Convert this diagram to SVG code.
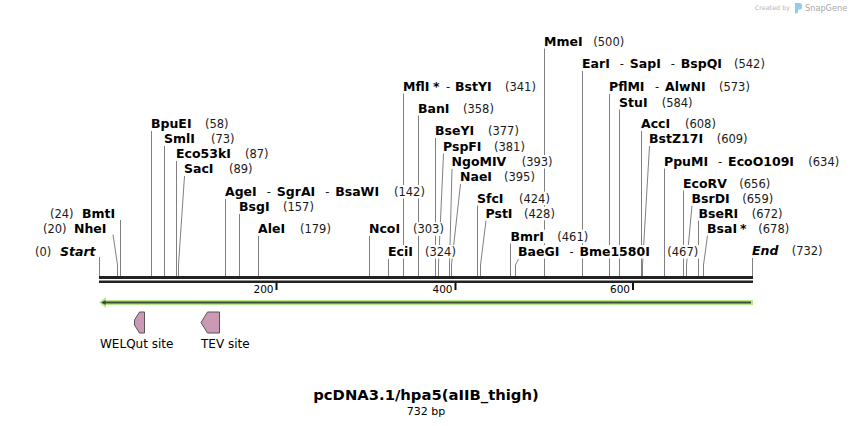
<svg xmlns="http://www.w3.org/2000/svg" width="852" height="426" viewBox="0 0 852 426">
<style>
.ln{stroke:#808080;stroke-width:1;fill:none}
.bg{fill:#fff}
.nm{font-family:"DejaVu Sans",Verdana,sans-serif;font-weight:bold;font-size:12.5px;fill:#000}
.nu{font-family:"DejaVu Sans",Verdana,sans-serif;font-weight:normal;font-size:11.5px;fill:#1a1a1a}
.it{font-style:italic}
.tk{font-family:"DejaVu Sans",Verdana,sans-serif;font-size:10.5px;fill:#000;text-anchor:end}
.ft{font-family:"DejaVu Sans",Verdana,sans-serif;font-size:12px;fill:#000}
.feat{fill:#cc99b4;stroke:#555;stroke-width:1}
</style>
<rect width="852" height="426" fill="#fff"/>

<g id="snapgene-logo">
<text x="790" y="10" font-family="'DejaVu Sans',sans-serif" font-size="6.4" fill="#b8b8b8" text-anchor="end">Created by</text>
<path d="M795,3 h4.5 a2.5,2.5 0 0 1 2.5,2.5 v2 a2,2 0 0 1 -2,2 h-2 v3 l-3,1.5 z" fill="#8fcdea"/>
<text x="805" y="11" font-family="'DejaVu Sans',sans-serif" font-size="8.2" fill="#a8a8a8">SnapGene</text>
</g>

<g id="connectors">
<polyline class="ln" points="99.5,257 99.5,276"/>
<polyline class="ln" points="113,234.5 117.5,265 117.5,276"/>
<polyline class="ln" points="120.5,220 120.5,276"/>
<polyline class="ln" points="151.5,131 151.5,276"/>
<polyline class="ln" points="164.5,146 164.5,276"/>
<polyline class="ln" points="176.5,161 176.5,276"/>
<polyline class="ln" points="184.5,176 178.5,265 178.5,276"/>
<polyline class="ln" points="225.5,199 225.5,276"/>
<polyline class="ln" points="239.5,214 239.5,276"/>
<polyline class="ln" points="258.5,236 258.5,276"/>
<polyline class="ln" points="369.5,236 369.5,276"/>
<polyline class="ln" points="388.5,259 388.5,276"/>
<polyline class="ln" points="403.5,93.5 403.5,276"/>
<polyline class="ln" points="418.5,115.5 418.5,276"/>
<polyline class="ln" points="435.5,138 435.5,276"/>
<polyline class="ln" points="443.5,153.5 438.5,265 438.5,276"/>
<polyline class="ln" points="452,169 449.5,265 449.5,276"/>
<polyline class="ln" points="460.5,184 451.5,265 451.5,276"/>
<polyline class="ln" points="477.5,205.5 477.5,276"/>
<polyline class="ln" points="486,220.5 480.5,265 480.5,276"/>
<polyline class="ln" points="510.5,243.5 510.5,276"/>
<polyline class="ln" points="518.5,259 515.5,265 515.5,276"/>
<polyline class="ln" points="544.5,48.5 544.5,276"/>
<polyline class="ln" points="582.5,71 582.5,276"/>
<polyline class="ln" points="609.5,94 609.5,276"/>
<polyline class="ln" points="619.5,109.5 619.5,276"/>
<polyline class="ln" points="641.5,131 641.5,276"/>
<polyline class="ln" points="649.5,146 642.5,265 642.5,276"/>
<polyline class="ln" points="664.5,168.5 664.5,276"/>
<polyline class="ln" points="683.5,190.5 683.5,276"/>
<polyline class="ln" points="692,205.5 686.5,265 686.5,276"/>
<polyline class="ln" points="698.5,220.5 698.5,276"/>
<polyline class="ln" points="707.5,235.5 703.5,265 703.5,276"/>
<polyline class="ln" points="752.5,258 752.5,276"/>
</g>

<g id="backbone">
<rect x="99" y="276" width="654" height="3" fill="#222"/>
<rect x="99" y="280.5" width="654" height="2.5" fill="#222"/>
<g stroke="#111" stroke-width="2">
<line x1="276.5" y1="283" x2="276.5" y2="290"/>
<line x1="455.5" y1="283" x2="455.5" y2="290"/>
<line x1="633" y1="283" x2="633" y2="290"/>
</g>
<text class="tk" x="273.5" y="293">200</text>
<text class="tk" x="452.5" y="293">400</text>
<text class="tk" x="630" y="293">600</text>
</g>

<g id="site-Start"><rect class="bg" x="33.5" y="245" width="18.5" height="13.5"/><rect class="bg" x="58.5" y="245" width="38.5" height="13.5"/>
<text x="35" y="256"><tspan class="nu">(0)</tspan><tspan class="nm it" x="60">Start</tspan></text></g>
<g id="site-NheI"><rect class="bg" x="41.5" y="222.3" width="26" height="13.5"/><rect class="bg" x="72.5" y="222.3" width="35.5" height="13.5"/>
<text x="43" y="233.3"><tspan class="nu">(20)</tspan><tspan class="nm" x="74">NheI</tspan></text></g>
<g id="site-BmtI"><rect class="bg" x="48.5" y="207.3" width="26" height="13.5"/><rect class="bg" x="80.5" y="207.3" width="36" height="13.5"/>
<text x="50" y="218.3"><tspan class="nu">(24)</tspan><tspan class="nm" x="82">BmtI</tspan></text></g>

<g id="site-BpuEI"><rect class="bg" x="149.5" y="117.3" width="43.5" height="13.5"/><rect class="bg" x="204" y="117.3" width="25.6" height="13.5"/>
<text y="128.3"><tspan class="nm" x="151">BpuEI</tspan><tspan class="nu" x="205">(58)</tspan></text></g>
<g id="site-SmlI"><rect class="bg" x="162.5" y="132.3" width="34" height="13.5"/><rect class="bg" x="210" y="132.3" width="25.6" height="13.5"/>
<text y="143.3"><tspan class="nm" x="164">SmlI</tspan><tspan class="nu" x="211">(73)</tspan></text></g>
<g id="site-Eco53kI"><rect class="bg" x="174.5" y="147.3" width="58" height="13.5"/><rect class="bg" x="244" y="147.3" width="25.6" height="13.5"/>
<text y="158.3"><tspan class="nm" x="176">Eco53kI</tspan><tspan class="nu" x="245">(87)</tspan></text></g>
<g id="site-SacI"><rect class="bg" x="182.5" y="162.3" width="32.5" height="13.5"/><rect class="bg" x="228" y="162.3" width="25.6" height="13.5"/>
<text y="173.3"><tspan class="nm" x="184">SacI</tspan><tspan class="nu" x="229">(89)</tspan></text></g>
<g id="site-AgeI"><rect class="bg" x="223.5" y="185" width="157" height="13.5"/><rect class="bg" x="393" y="185" width="33" height="13.5"/>
<text y="196"><tspan class="nm" x="225">AgeI</tspan><tspan class="nu" x="266.8">-</tspan><tspan class="nm" x="276.8">SgrAI</tspan><tspan class="nu" x="325.2">-</tspan><tspan class="nm" x="335.2">BsaWI</tspan><tspan class="nu" x="394">(142)</tspan></text></g>
<g id="site-BsgI"><rect class="bg" x="237.5" y="200" width="33.5" height="13.5"/><rect class="bg" x="282" y="200" width="33" height="13.5"/>
<text y="211"><tspan class="nm" x="239">BsgI</tspan><tspan class="nu" x="283">(157)</tspan></text></g>
<g id="site-AleI"><rect class="bg" x="256.5" y="222" width="30" height="13.5"/><rect class="bg" x="299" y="222" width="33" height="13.5"/>
<text y="233"><tspan class="nm" x="258">AleI</tspan><tspan class="nu" x="300">(179)</tspan></text></g>
<g id="site-NcoI"><rect class="bg" x="367.5" y="222.3" width="34" height="13.5"/><rect class="bg" x="412" y="222.3" width="33" height="13.5"/>
<text y="233.3"><tspan class="nm" x="369">NcoI</tspan><tspan class="nu" x="413">(303)</tspan></text></g>
<g id="site-EciI"><rect class="bg" x="386.5" y="245" width="28" height="13.5"/><rect class="bg" x="424" y="245" width="33" height="13.5"/>
<text y="256"><tspan class="nm" x="388">EciI</tspan><tspan class="nu" x="425">(324)</tspan></text></g>
<g id="site-MflI"><rect class="bg" x="401.5" y="79.7" width="91.5" height="13.5"/><rect class="bg" x="504" y="79.7" width="33" height="13.5"/>
<text y="90.7"><tspan class="nm" x="403">MflI</tspan><tspan class="nm" x="433">*</tspan><tspan class="nu" x="446">-</tspan><tspan class="nm" x="455">BstYI</tspan><tspan class="nu" x="505">(341)</tspan></text></g>
<g id="site-BanI"><rect class="bg" x="416.5" y="101.7" width="34.5" height="13.5"/><rect class="bg" x="462" y="101.7" width="33" height="13.5"/>
<text y="112.7"><tspan class="nm" x="418">BanI</tspan><tspan class="nu" x="463">(358)</tspan></text></g>
<g id="site-BseYI"><rect class="bg" x="433.5" y="124" width="42" height="13.5"/><rect class="bg" x="487" y="124" width="33" height="13.5"/>
<text y="135"><tspan class="nm" x="435">BseYI</tspan><tspan class="nu" x="488">(377)</tspan></text></g>
<g id="site-PspFI"><rect class="bg" x="441.5" y="139.7" width="41.5" height="13.5"/><rect class="bg" x="493" y="139.7" width="33" height="13.5"/>
<text y="150.7"><tspan class="nm" x="443">PspFI</tspan><tspan class="nu" x="494">(381)</tspan></text></g>
<g id="site-NgoMIV"><rect class="bg" x="450" y="155" width="57.5" height="13.5"/><rect class="bg" x="520.7" y="155" width="33" height="13.5"/>
<text y="166"><tspan class="nm" x="451.5">NgoMIV</tspan><tspan class="nu" x="521.7">(393)</tspan></text></g>
<g id="site-NaeI"><rect class="bg" x="458.5" y="170" width="35" height="13.5"/><rect class="bg" x="503" y="170" width="33" height="13.5"/>
<text y="181"><tspan class="nm" x="460">NaeI</tspan><tspan class="nu" x="504">(395)</tspan></text></g>
<g id="site-SfcI"><rect class="bg" x="475.5" y="191.7" width="29.5" height="13.5"/><rect class="bg" x="518" y="191.7" width="33" height="13.5"/>
<text y="202.7"><tspan class="nm" x="477">SfcI</tspan><tspan class="nu" x="519">(424)</tspan></text></g>
<g id="site-PstI"><rect class="bg" x="484" y="206.7" width="30" height="13.5"/><rect class="bg" x="523" y="206.7" width="33" height="13.5"/>
<text y="217.7"><tspan class="nm" x="485.5">PstI</tspan><tspan class="nu" x="524">(428)</tspan></text></g>
<g id="site-BmrI"><rect class="bg" x="509" y="229.7" width="36" height="13.5"/><rect class="bg" x="556.3" y="229.7" width="33" height="13.5"/>
<text y="240.7"><tspan class="nm" x="510.5">BmrI</tspan><tspan class="nu" x="557.3">(461)</tspan></text></g>
<g id="site-BaeGI"><rect class="bg" x="516.5" y="245" width="135" height="13.5"/><rect class="bg" x="666.3" y="245" width="33" height="13.5"/>
<text y="256"><tspan class="nm" x="518">BaeGI</tspan><tspan class="nu" x="569.4">-</tspan><tspan class="nm" x="579.4">Bme1580I</tspan><tspan class="nu" x="667.3">(467)</tspan></text></g>
<g id="site-MmeI"><rect class="bg" x="542.5" y="34.7" width="41.5" height="13.5"/><rect class="bg" x="592.3" y="34.7" width="33" height="13.5"/>
<text y="45.7"><tspan class="nm" x="544">MmeI</tspan><tspan class="nu" x="593.3">(500)</tspan></text></g>
<g id="site-EarI"><rect class="bg" x="580.5" y="57.3" width="143" height="13.5"/><rect class="bg" x="733" y="57.3" width="33" height="13.5"/>
<text y="68.3"><tspan class="nm" x="582">EarI</tspan><tspan class="nu" x="619.8">-</tspan><tspan class="nm" x="629.8">SapI</tspan><tspan class="nu" x="670.8">-</tspan><tspan class="nm" x="680.8">BspQI</tspan><tspan class="nu" x="734">(542)</tspan></text></g>
<g id="site-PflMI"><rect class="bg" x="607.5" y="80" width="99.5" height="13.5"/><rect class="bg" x="718" y="80" width="33" height="13.5"/>
<text y="91"><tspan class="nm" x="609">PflMI</tspan><tspan class="nu" x="655">-</tspan><tspan class="nm" x="665">AlwNI</tspan><tspan class="nu" x="719">(573)</tspan></text></g>
<g id="site-StuI"><rect class="bg" x="617.5" y="95.7" width="31.5" height="13.5"/><rect class="bg" x="660.7" y="95.7" width="33" height="13.5"/>
<text y="106.7"><tspan class="nm" x="619">StuI</tspan><tspan class="nu" x="661.7">(584)</tspan></text></g>
<g id="site-AccI"><rect class="bg" x="639.5" y="117.3" width="32" height="13.5"/><rect class="bg" x="684" y="117.3" width="33" height="13.5"/>
<text y="128.3"><tspan class="nm" x="641">AccI</tspan><tspan class="nu" x="685">(608)</tspan></text></g>
<g id="site-BstZ17I"><rect class="bg" x="647.5" y="132.3" width="57" height="13.5"/><rect class="bg" x="715.7" y="132.3" width="33" height="13.5"/>
<text y="143.3"><tspan class="nm" x="649">BstZ17I</tspan><tspan class="nu" x="716.7">(609)</tspan></text></g>
<g id="site-PpuMI"><rect class="bg" x="662.5" y="154.7" width="133" height="13.5"/><rect class="bg" x="807.3" y="154.7" width="33" height="13.5"/>
<text y="165.7"><tspan class="nm" x="664">PpuMI</tspan><tspan class="nu" x="718.1">-</tspan><tspan class="nm" x="728.1">EcoO109I</tspan><tspan class="nu" x="808.3">(634)</tspan></text></g>
<g id="site-EcoRV"><rect class="bg" x="681.5" y="176.7" width="47" height="13.5"/><rect class="bg" x="738.3" y="176.7" width="33" height="13.5"/>
<text y="187.7"><tspan class="nm" x="683">EcoRV</tspan><tspan class="nu" x="739.3">(656)</tspan></text></g>
<g id="site-BsrDI"><rect class="bg" x="690" y="191.7" width="41" height="13.5"/><rect class="bg" x="741.3" y="191.7" width="33" height="13.5"/>
<text y="202.7"><tspan class="nm" x="691.5">BsrDI</tspan><tspan class="nu" x="742.3">(659)</tspan></text></g>
<g id="site-BseRI"><rect class="bg" x="697" y="206.7" width="42.5" height="13.5"/><rect class="bg" x="750.7" y="206.7" width="33" height="13.5"/>
<text y="217.7"><tspan class="nm" x="698.5">BseRI</tspan><tspan class="nu" x="751.7">(672)</tspan></text></g>
<g id="site-BsaI"><rect class="bg" x="705.5" y="221.7" width="42" height="13.5"/><rect class="bg" x="757.3" y="221.7" width="33" height="13.5"/>
<text y="232.7"><tspan class="nm" x="707">BsaI</tspan><tspan class="nm" x="740">*</tspan><tspan class="nu" x="758.3">(678)</tspan></text></g>
<g id="site-End"><rect class="bg" x="750.5" y="244" width="29.5" height="13.5"/><rect class="bg" x="790.7" y="244" width="33" height="13.5"/>
<text y="255"><tspan class="nm it" x="752">End</tspan><tspan class="nu" x="791.7">(732)</tspan></text></g>

<g id="feature-main">
<polygon points="99,302.5 106,297 106,300 753,300 753,305 106,305 106,308" fill="#b5e889"/>
<line x1="104" y1="302.5" x2="751" y2="302.5" stroke="#3f4d36" stroke-width="1.8"/>
<polygon points="101,302.5 105.5,300 105.5,305" fill="#3f4d36"/>
</g>
<g id="feature-WELQut">
<polygon class="feat" points="144.5,312 139.5,312 134.5,320 134.5,325 139.5,333 144.5,333"/>
<text class="ft" x="100" y="347.5">WELQut site</text>
</g>
<g id="feature-TEV">
<polygon class="feat" points="219.5,312 207.5,312 201,322.5 207.5,333 219.5,333"/>
<text class="ft" x="201" y="347.5">TEV site</text>
</g>

<g id="title">
<text x="426" y="399.5" text-anchor="middle" font-family="'DejaVu Sans',Verdana,sans-serif" font-weight="bold" font-size="14.8" fill="#000">pcDNA3.1/hpa5(aIIB_thigh)</text>
<text x="426" y="414.5" text-anchor="middle" font-family="'DejaVu Sans',Verdana,sans-serif" font-size="11" fill="#000">732 bp</text>
</g>
</svg>
